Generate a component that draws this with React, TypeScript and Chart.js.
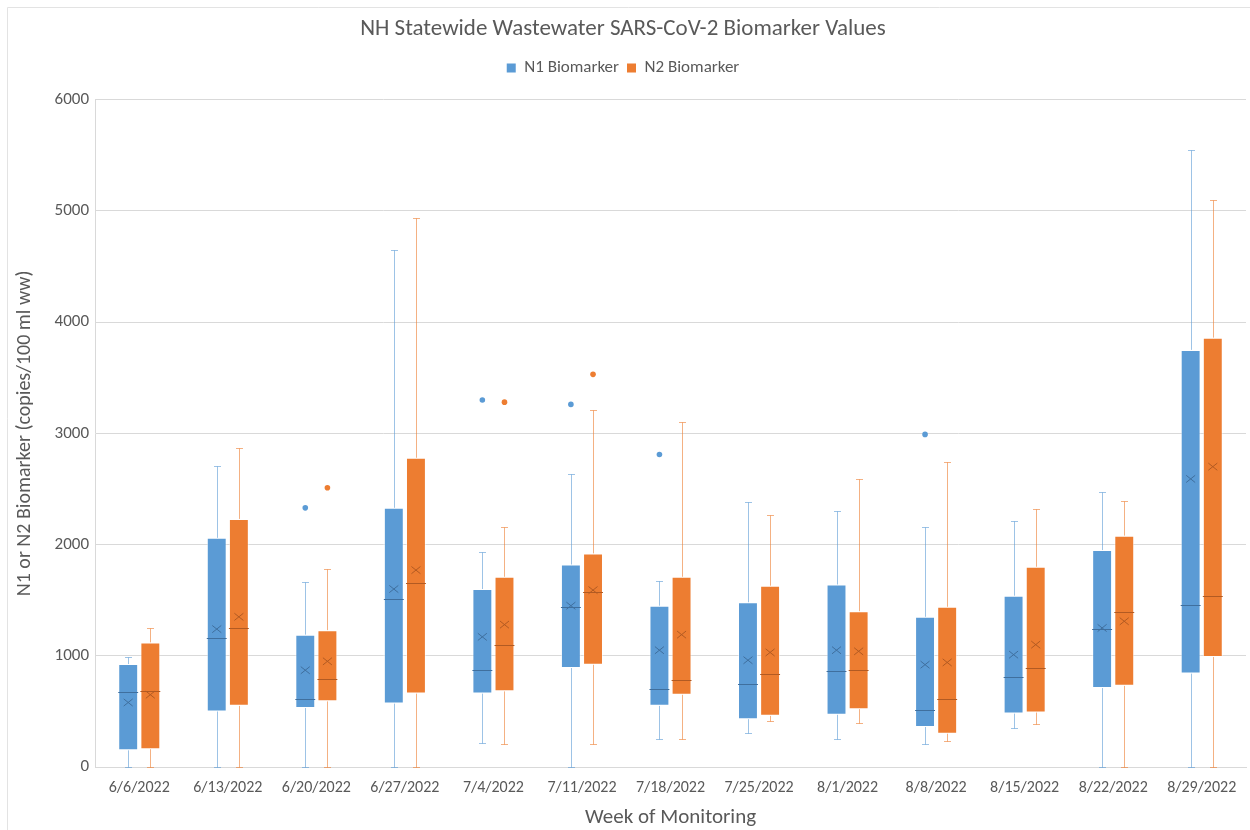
import React, { useEffect, useRef } from "react";
import { Chart, registerables, layouts } from "chart.js";

Chart.register(...registerables);

const categories = [
  "6/6/2022", "6/13/2022", "6/20/2022", "6/27/2022", "7/4/2022", "7/11/2022", "7/18/2022",
  "7/25/2022", "8/1/2022", "8/8/2022", "8/15/2022", "8/22/2022", "8/29/2022",
];

// N1 Biomarker statistics
const n1Min = [0, 0, 0, 0, 220, 0, 250, 310, 250, 210, 350, 0, 0];
const n1Q1 = [150, 500, 530, 570, 660, 890, 550, 430, 470, 360, 480, 710, 840];
const n1Median = [670, 1160, 610, 1510, 870, 1440, 700, 750, 860, 510, 810, 1240, 1460];
const n1Q3 = [925, 2060, 1190, 2330, 1600, 1820, 1450, 1480, 1640, 1350, 1540, 1950, 3750];
const n1Max = [985, 2710, 1660, 4650, 1930, 2630, 1670, 2380, 2300, 2160, 2210, 2470, 5550];
const n1Mean = [580, 1240, 870, 1600, 1170, 1450, 1050, 960, 1050, 920, 1010, 1250, 2590];
const n1Outliers = [[], [], [2330], [], [3300], [3260], [2810], [], [], [2990], [], [], []];

// N2 Biomarker statistics
const n2Min = [0, 0, 0, 0, 210, 210, 250, 410, 400, 230, 390, 0, 0];
const n2Q1 = [160, 550, 590, 660, 680, 920, 650, 460, 520, 300, 490, 730, 990];
const n2Median = [680, 1250, 790, 1650, 1100, 1570, 780, 840, 870, 610, 890, 1390, 1540];
const n2Q3 = [1120, 2230, 1230, 2780, 1710, 1920, 1710, 1630, 1400, 1440, 1800, 2080, 3860];
const n2Max = [1250, 2870, 1780, 4940, 2160, 3210, 3100, 2270, 2590, 2740, 2320, 2390, 5100];
const n2Mean = [650, 1350, 950, 1770, 1280, 1590, 1190, 1030, 1040, 940, 1100, 1310, 2700];
const n2Outliers = [[], [], [2510], [], [3280], [3530], [], [], [], [], [], [], []];

const yTicks = [0, 1000, 2000, 3000, 4000, 5000, 6000];

const FONT = 'Carlito, "Liberation Sans Narrow", Lato, "DejaVu Sans Condensed", sans-serif';
const TEXT = "#595959";

const series = [
  {
    label: "N1 Biomarker",
    fill: "#5B9BD5",
    dark: "#3F6F9E",
    whisker: "rgba(91,155,213,0.6)",
    min: n1Min, q1: n1Q1, median: n1Median, q3: n1Q3, max: n1Max, mean: n1Mean, outliers: n1Outliers,
  },
  {
    label: "N2 Biomarker",
    fill: "#ED7D31",
    dark: "#B25A22",
    whisker: "rgba(237,125,49,0.6)",
    min: n2Min, q1: n2Q1, median: n2Median, q3: n2Q3, max: n2Max, mean: n2Mean, outliers: n2Outliers,
  },
];

const boxPlugin = {
  id: "boxExtras",
  beforeDatasetsDraw(chart: any) {
    const ctx = chart.ctx;
    const y = chart.scales.y;
    ctx.save();
    series.forEach((s, di) => {
      const meta = chart.getDatasetMeta(di);
      meta.data.forEach((el: any, i: number) => {
        const x = Math.round(el.x) + 0.5;
        const yMax = Math.round(y.getPixelForValue(s.max[i])) + 0.5;
        const yMin = Math.round(y.getPixelForValue(s.min[i])) + 0.5;
        const yQ1 = y.getPixelForValue(s.q1[i]);
        const yQ3 = y.getPixelForValue(s.q3[i]);
        ctx.strokeStyle = s.whisker;
        ctx.lineWidth = 1;
        ctx.beginPath();
        ctx.moveTo(x, yMax);
        ctx.lineTo(x, yQ3);
        ctx.moveTo(x, yQ1);
        ctx.lineTo(x, yMin);
        ctx.moveTo(x - 3.5, yMax);
        ctx.lineTo(x + 3.5, yMax);
        ctx.moveTo(x - 3.5, yMin);
        ctx.lineTo(x + 3.5, yMin);
        ctx.stroke();
      });
    });
    ctx.restore();
  },
  afterDatasetsDraw(chart: any) {
    const ctx = chart.ctx;
    const y = chart.scales.y;
    ctx.save();
    series.forEach((s, di) => {
      const meta = chart.getDatasetMeta(di);
      meta.data.forEach((el: any, i: number) => {
        const x = el.x;
        const half = el.width / 2;
        const ym = Math.round(y.getPixelForValue(s.median[i])) + 0.5;
        ctx.strokeStyle = s.dark;
        ctx.lineWidth = 1;
        ctx.beginPath();
        ctx.moveTo(x - half, ym);
        ctx.lineTo(x + half, ym);
        ctx.stroke();
        const yMean = y.getPixelForValue(s.mean[i]);
        const r = 4.5;
        ctx.beginPath();
        ctx.moveTo(x - r, yMean - r * 0.8);
        ctx.lineTo(x + r, yMean + r * 0.8);
        ctx.moveTo(x + r, yMean - r * 0.8);
        ctx.lineTo(x - r, yMean + r * 0.8);
        ctx.stroke();
        ctx.fillStyle = s.fill;
        s.outliers[i].forEach((v: number) => {
          ctx.beginPath();
          ctx.arc(x, y.getPixelForValue(v), 2.8, 0, Math.PI * 2);
          ctx.fill();
        });
      });
    });
    ctx.restore();
  },
};

const frame = {
  id: "frame",
  beforeDraw(chart: any) {
    const ctx = chart.ctx;
    ctx.save();
    ctx.fillStyle = "#ffffff";
    ctx.fillRect(0, 0, chart.width, chart.height);
    ctx.strokeStyle = "#E3E3E3";
    ctx.lineWidth = 1;
    ctx.beginPath();
    ctx.moveTo(7.5, chart.height);
    ctx.lineTo(7.5, 7.5);
    ctx.lineTo(chart.width, 7.5);
    ctx.stroke();
    ctx.restore();
  },
};

// a spacer box between the legend and the plot area
const spacer = {
  id: "spacer",
  beforeInit(chart: any) {
    const box: any = {
      position: "top",
      weight: 0,
      fullSize: true,
      options: { stackWeight: 1 },
      width: 0,
      height: 0,
      top: 0,
      left: 0,
      right: 0,
      bottom: 0,
      isHorizontal() {
        return true;
      },
      update(maxWidth: number) {
        box.width = maxWidth;
        box.height = 13;
      },
      draw() {},
    };
    layouts.addBox(chart, box);
  },
};

export default function App() {
  const ref = useRef<HTMLCanvasElement | null>(null);

  useEffect(() => {
    document.body.style.margin = "0";
    const canvas = ref.current;
    if (!canvas) return;
    const chart = new Chart(canvas, {
      type: "bar",
      data: {
        labels: categories,
        datasets: series.map((s) => ({
          label: s.label,
          data: categories.map((_, i) => [s.q1[i], s.q3[i]]) as any,
          backgroundColor: s.fill,
          borderColor: "rgba(255,255,255,0.5)",
          borderWidth: 1,
          borderSkipped: false,
          barPercentage: 0.9,
          categoryPercentage: 0.5,
        })),
      },
      options: {
        animation: false,
        responsive: false,
        maintainAspectRatio: false,
        layout: { padding: { top: 0, right: 4, left: 0, bottom: 0 } },
        plugins: {
          tooltip: { enabled: false },
          title: {
            display: true,
            text: "NH Statewide Wastewater SARS-CoV-2 Biomarker Values",
            color: TEXT,
            font: { family: FONT, size: 23, weight: "normal" },
            padding: { top: 15, bottom: 9 },
          },
          legend: {
            display: true,
            labels: {
              color: TEXT,
              font: { family: FONT, size: 17 },
              boxWidth: 9,
              boxHeight: 9,
              padding: 8,
              generateLabels: () =>
                series.map((s, i) => ({
                  text: s.label,
                  fillStyle: s.fill,
                  strokeStyle: s.fill,
                  lineWidth: 0,
                  hidden: false,
                  datasetIndex: i,
                  fontColor: TEXT,
                })),
            },
          },
        },
        scales: {
          x: {
            grid: { display: false, drawTicks: false },
            border: { display: true, color: "#D9D9D9" },
            ticks: { color: TEXT, font: { family: FONT, size: 16 }, maxRotation: 0, padding: 11 },
            title: {
              display: true,
              text: "Week of Monitoring",
              color: TEXT,
              font: { family: FONT, size: 21 },
              padding: { top: 6, bottom: 0 },
            },
            afterFit: (scale: any) => {
              scale.height = 63;
            },
          },
          y: {
            min: 0,
            max: 6000,
            afterBuildTicks: (scale: any) => {
              scale.ticks = yTicks.map((v) => ({ value: v }));
            },
            grid: { color: "#D9D9D9", drawTicks: false },
            border: { display: true, color: "#D9D9D9" },
            ticks: {
              color: TEXT,
              font: { family: FONT, size: 17 },
              padding: 6,
              callback: (v: any) => String(v),
            },
            title: {
              display: true,
              text: "N1 or N2 Biomarker (copies/100 ml ww)",
              color: TEXT,
              font: { family: FONT, size: 20 },
              padding: { top: 13, bottom: 0 },
            },
            afterFit: (scale: any) => {
              scale.width = 95;
            },
          },
        },
      },
      plugins: [frame, spacer, boxPlugin],
    });
    return () => chart.destroy();
  }, []);

  return <canvas ref={ref} width={1250} height={830} style={{ display: "block" }} />;
}
